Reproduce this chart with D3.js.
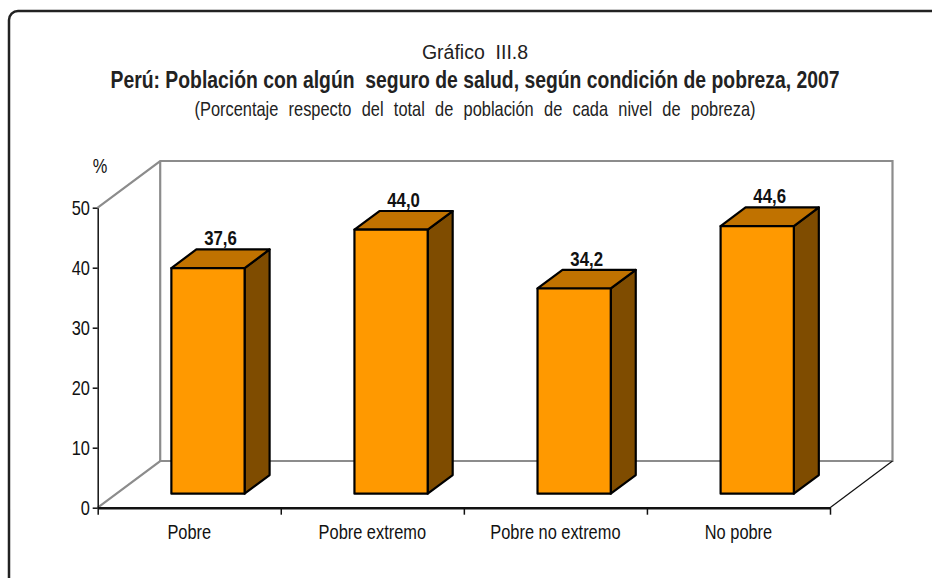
<!DOCTYPE html>
<html>
<head>
<meta charset="utf-8">
<script src="https://cdn.jsdelivr.net/npm/d3@7"></script>
<style>
  html, body { margin: 0; background: #fff; overflow: hidden; }
  svg { display: block; }
  text { font-family: "Liberation Sans", Arial, sans-serif; fill: #111; }
</style>
</head>
<body>
<div id="chart"></div>
<script>
// Data
const categories = ["Pobre", "Pobre extremo", "Pobre no extremo", "No pobre"];
const values = [37.6, 44.0, 34.2, 44.6];
const yTicks = [0, 10, 20, 30, 40, 50];

const titleTop = "Gráfico  III.8";
const titleMain = "Perú: Población con algún  seguro de salud, según condición de pobreza, 2007";
const subtitle = "(Porcentaje respecto del total de población de cada nivel de pobreza)";

const W = 932, H = 578;
const narrow = "scale(0.82,1)"; // no Arial Narrow installed, squeeze Liberation Sans

// front plane of the 3D box
const plotLeft = 97.7, plotRight = 830, plotBottom = 507.7, plotTop = 207.7;
// depth offset of the back wall
const dx = 62.5, dy = 46.7;
// bars sit between these depth fractions
const z0 = 0.3, z1 = 0.7;

const svg = d3.select("#chart")
    .append("svg")
    .attr("width", W)
    .attr("height", H);

// outer rounded border (right and bottom sides run off the page)
svg.append("rect")
    .attr("x", 9).attr("y", 11)
    .attr("width", 1100).attr("height", 700)
    .attr("rx", 9)
    .attr("fill", "none")
    .attr("stroke", "#222")
    .attr("stroke-width", 2.5);

// titles
const cx = 475;
svg.append("text")
    .attr("x", cx).attr("y", 59)
    .attr("text-anchor", "middle")
    .style("white-space", "pre")
    .style("font-size", "19.5px")
    .style("fill", "#222")
    .text(titleTop);

svg.append("text")
    .attr("transform", `translate(${cx},88) ${narrow}`)
    .attr("text-anchor", "middle")
    .style("white-space", "pre")
    .style("font-size", "23.6px")
    .style("font-weight", "bold")
    .style("fill", "#222")
    .text(titleMain);

svg.append("text")
    .attr("transform", `translate(${cx},116) ${narrow}`)
    .attr("text-anchor", "middle")
    .style("font-size", "20px")
    .style("word-spacing", "7px")
    .style("fill", "#222")
    .text(subtitle);

// scales
const xScale = d3.scaleBand()
    .domain(categories)
    .range([plotLeft, plotRight])
    .paddingInner(0.6)
    .paddingOuter(0.3);

const yScale = d3.scaleLinear()
    .domain([0, 50])
    .range([plotBottom, plotTop]);

const xEdge = d3.scaleLinear()
    .domain([0, categories.length])
    .range([plotLeft, plotRight]);

// back walls (gray)
const gray = "#8c8c8c";
const walls = svg.append("g")
    .attr("fill", "none")
    .attr("stroke", gray)
    .attr("stroke-width", 2.2);

walls.append("path")
    .attr("d", d3.line()([
        [plotLeft, yScale(0)], [plotLeft + dx, yScale(0) - dy],
        [plotRight + dx, yScale(0) - dy], [plotRight + dx, yScale(50) - dy],
        [plotLeft + dx, yScale(50) - dy], [plotLeft, yScale(50)]
    ]));

walls.append("line")
    .attr("x1", plotLeft + dx).attr("y1", yScale(0) - dy)
    .attr("x2", plotLeft + dx).attr("y2", yScale(50) - dy);

// right floor edge
svg.append("line")
    .attr("x1", plotRight).attr("y1", yScale(0))
    .attr("x2", plotRight + dx).attr("y2", yScale(0) - dy)
    .attr("stroke", "#111")
    .attr("stroke-width", 1.2);

// bars
const bw = xScale.bandwidth();
const ddx = (z1 - z0) * dx, ddy = (z1 - z0) * dy;
const barData = categories.map((c, i) => ({ c, v: values[i] }));
const bars = svg.append("g")
    .selectAll("g")
    .data(barData)
    .join("g")
    .attr("stroke", "#000")
    .attr("stroke-width", 2.2)
    .attr("stroke-linejoin", "round");

function front(d) {
    const x = xScale(d.c) + z0 * dx;
    return { x, yb: yScale(0) - z0 * dy, yt: yScale(d.v) - z0 * dy };
}

// side face
bars.append("path")
    .attr("fill", "#7f4c00")
    .attr("d", d => {
        const f = front(d);
        return d3.line()([
            [f.x + bw, f.yb], [f.x + bw + ddx, f.yb - ddy],
            [f.x + bw + ddx, f.yt - ddy], [f.x + bw, f.yt]
        ]) + "Z";
    });

// top face
bars.append("path")
    .attr("fill", "#c07200")
    .attr("d", d => {
        const f = front(d);
        return d3.line()([
            [f.x, f.yt], [f.x + bw, f.yt],
            [f.x + bw + ddx, f.yt - ddy], [f.x + ddx, f.yt - ddy]
        ]) + "Z";
    });

// front face
bars.append("rect")
    .attr("fill", "#ff9900")
    .attr("x", d => front(d).x)
    .attr("y", d => front(d).yt)
    .attr("width", bw)
    .attr("height", d => front(d).yb - front(d).yt);

// value labels
const locale = d3.formatLocale({ decimal: ",", thousands: ".", grouping: [3], currency: ["", ""] });
const fmt = locale.format(".1f");

svg.append("g")
    .selectAll("text")
    .data(barData)
    .join("text")
    .attr("transform", d => `translate(${front(d).x + (bw + ddx) / 2},${front(d).yt - ddy - 4}) ${narrow}`)
    .attr("text-anchor", "middle")
    .style("font-size", "20.5px")
    .style("font-weight", "bold")
    .text(d => fmt(d.v));

// y axis
const yAxis = svg.append("g")
    .attr("transform", `translate(${plotLeft},0)`)
    .call(d3.axisLeft(yScale).tickValues(yTicks).tickSize(5).tickSizeOuter(0).tickPadding(4.5));
yAxis.attr("font-family", null).attr("font-size", null);
yAxis.selectAll("path, line").attr("stroke", "#111").attr("stroke-width", 1.5);
yAxis.selectAll("text")
    .attr("transform", narrow)
    .style("font-size", "20px")
    .attr("fill", "#111");

// x axis: ticks at category boundaries
const xTicks = svg.append("g")
    .attr("transform", `translate(0,${plotBottom})`)
    .call(d3.axisBottom(xEdge).ticks(categories.length).tickSize(7).tickSizeOuter(0).tickFormat(""));
xTicks.selectAll("path").attr("stroke", "#111").attr("stroke-width", 2.5);
xTicks.selectAll("line").attr("stroke", "#111").attr("stroke-width", 1.5);

// category labels
const xLabels = svg.append("g")
    .attr("transform", `translate(0,${plotBottom})`)
    .call(d3.axisBottom(xScale).tickSize(0).tickPadding(17));
xLabels.attr("font-family", null).attr("font-size", null);
xLabels.select(".domain").remove();
xLabels.selectAll("text")
    .attr("transform", narrow)
    .style("font-size", "20px")
    .attr("fill", "#111");

// axis unit
svg.append("text")
    .attr("transform", `translate(100,173) ${narrow}`)
    .attr("text-anchor", "middle")
    .style("font-size", "20px")
    .text("%");
</script>
</body>
</html>
